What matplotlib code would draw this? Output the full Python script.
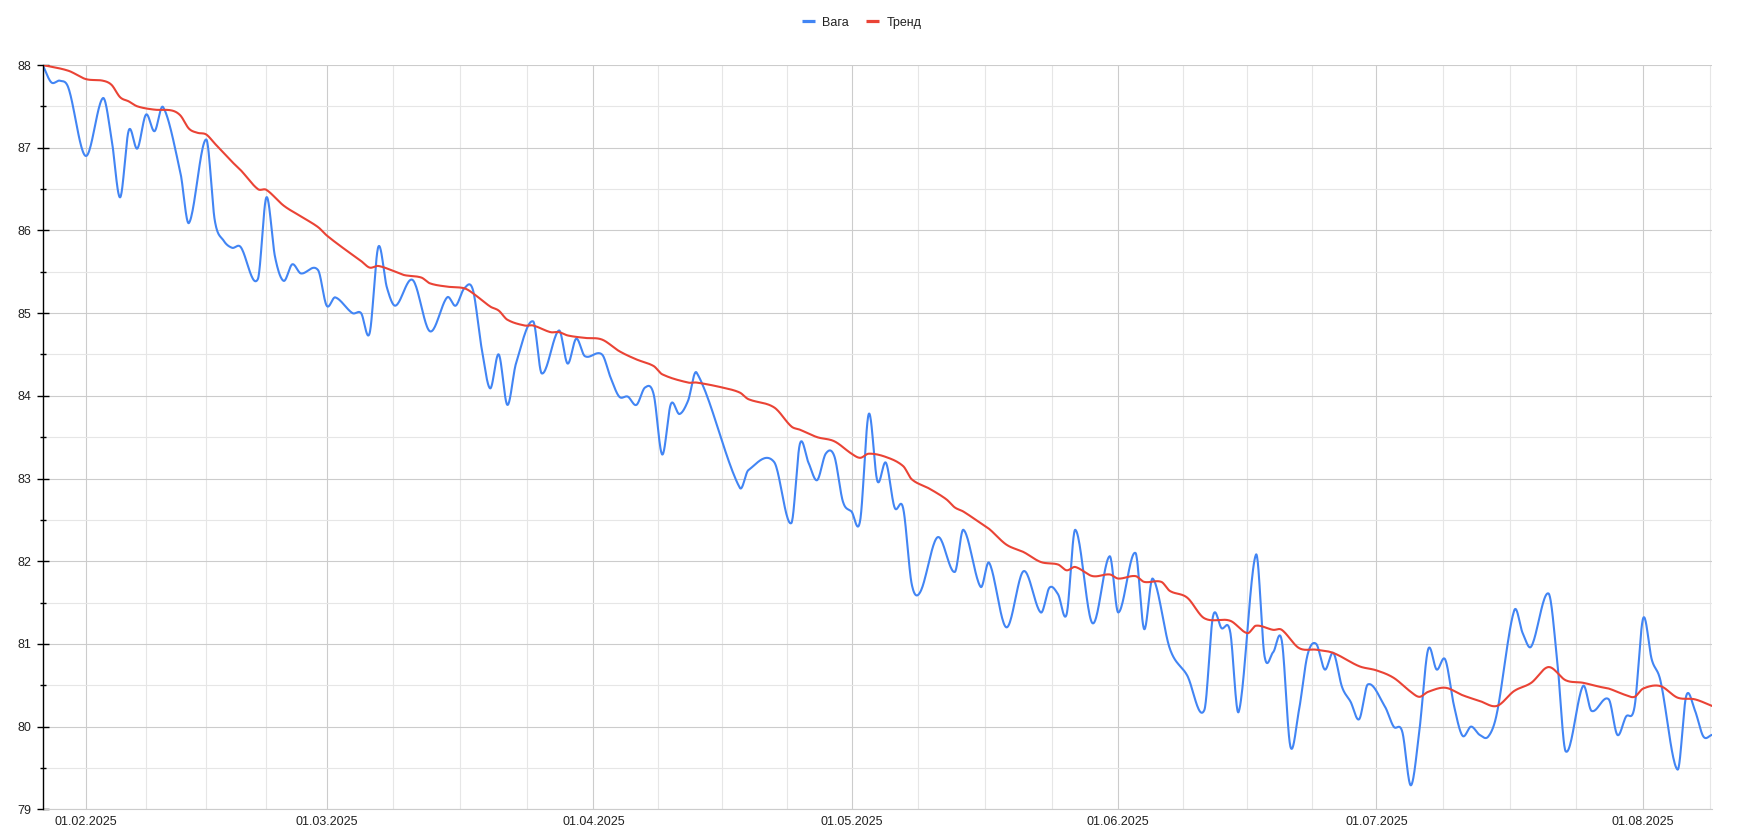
import datetime as dt
import numpy as np
import matplotlib
matplotlib.use("Agg")
import matplotlib.pyplot as plt
import matplotlib.dates as mdates
from matplotlib.lines import Line2D
from matplotlib.ticker import FixedLocator, MultipleLocator

plt.rcParams['font.family'] = ['Liberation Sans', 'DejaVu Sans']

YEAR = 2025

weight_dates = [
    "01-27", "01-28", "01-29", "01-30", "02-01", "02-03", "02-04", "02-05", "02-06", "02-07",
    "02-08", "02-09", "02-10", "02-12", "02-13", "02-15", "02-16", "02-17", "02-18", "02-19",
    "02-21", "02-22", "02-23", "02-24", "02-25", "02-26", "02-28", "03-01", "03-02", "03-04",
    "03-05", "03-06", "03-07", "03-08", "03-09", "03-11", "03-13", "03-15", "03-16", "03-17",
    "03-18", "03-19", "03-20", "03-21", "03-22", "03-23", "03-25", "03-26", "03-28", "03-29",
    "03-30", "03-31", "04-02", "04-03", "04-04", "04-05", "04-06", "04-07", "04-08", "04-09",
    "04-10", "04-11", "04-12", "04-13", "04-18", "04-19", "04-22", "04-24", "04-25", "04-26",
    "04-27", "04-28", "04-29", "04-30", "05-01", "05-02", "05-03", "05-04", "05-05", "05-06",
    "05-07", "05-08", "05-09", "05-11", "05-13", "05-14", "05-16", "05-17", "05-19", "05-21",
    "05-23", "05-24", "05-25", "05-26", "05-27", "05-29", "05-31", "06-01", "06-03", "06-04",
    "06-05", "06-07", "06-09", "06-11", "06-12", "06-13", "06-14", "06-15", "06-17", "06-18",
    "06-19", "06-20", "06-21", "06-22", "06-23", "06-24", "06-25", "06-26", "06-27", "06-28",
    "06-29", "06-30", "07-02", "07-03", "07-04", "07-05", "07-06", "07-07", "07-08", "07-09",
    "07-10", "07-11", "07-12", "07-13", "07-14", "07-15", "07-17", "07-18", "07-19", "07-21",
    "07-22", "07-23", "07-25", "07-26", "07-28", "07-29", "07-30", "07-31", "08-01", "08-02",
    "08-03", "08-05", "08-06", "08-07", "08-08", "08-09",
]
weight_values = [
    88.0, 87.79, 87.81, 87.72, 86.9, 87.6, 87.11, 86.4, 87.21, 86.99,
    87.4, 87.2, 87.49, 86.7, 86.09, 87.1, 86.12, 85.88, 85.79, 85.8,
    85.41, 86.4, 85.68, 85.39, 85.59, 85.48, 85.52, 85.09, 85.19, 85.0,
    85.0, 84.76, 85.8, 85.31, 85.09, 85.4, 84.78, 85.19, 85.09, 85.3,
    85.28, 84.58, 84.09, 84.5, 83.89, 84.39, 84.9, 84.27, 84.79, 84.39,
    84.69, 84.48, 84.5, 84.22, 83.99, 83.99, 83.89, 84.1, 84.02, 83.29,
    83.9, 83.78, 83.94, 84.28, 82.89, 83.1, 83.2, 82.46, 83.42, 83.19,
    82.98, 83.3, 83.27, 82.72, 82.6, 82.49, 83.78, 82.97, 83.19, 82.65,
    82.64, 81.72, 81.63, 82.29, 81.87, 82.38, 81.69, 81.98, 81.2, 81.88,
    81.38, 81.68, 81.6, 81.36, 82.38, 81.25, 82.06, 81.38, 82.1, 81.18,
    81.79, 80.94, 80.62, 80.2, 81.33, 81.19, 81.15, 80.18, 82.08, 80.85,
    80.9, 81.04, 79.76, 80.2, 80.87, 81.0, 80.69, 80.89, 80.48, 80.3,
    80.09, 80.51, 80.24, 80.0, 79.94, 79.29, 79.96, 80.93, 80.69, 80.81,
    80.26, 79.89, 80.0, 79.9, 79.88, 80.16, 81.4, 81.13, 80.97, 81.61,
    80.81, 79.7, 80.49, 80.19, 80.33, 79.9, 80.12, 80.24, 81.31, 80.81,
    80.56, 79.48, 80.37, 80.2, 79.88, 79.9,
]

trend_dates = [
    "01-27", "01-30", "02-01", "02-03", "02-04", "02-05", "02-06", "02-07", "02-09", "02-11",
    "02-12", "02-13", "02-14", "02-15", "02-16", "02-18", "02-19", "02-21", "02-22", "02-24",
    "02-26", "02-28", "03-01", "03-03", "03-05", "03-06", "03-07", "03-09", "03-10", "03-12",
    "03-13", "03-15", "03-17", "03-18", "03-20", "03-21", "03-22", "03-24", "03-25", "03-27",
    "03-28", "03-29", "03-31", "04-02", "04-04", "04-06", "04-08", "04-09", "04-12", "04-13",
    "04-16", "04-18", "04-19", "04-22", "04-24", "04-25", "04-27", "04-29", "05-01", "05-02",
    "05-03", "05-05", "05-07", "05-08", "05-10", "05-12", "05-13", "05-14", "05-16", "05-17",
    "05-19", "05-21", "05-23", "05-25", "05-26", "05-27", "05-29", "05-31", "06-01", "06-03",
    "06-04", "06-06", "06-07", "06-09", "06-11", "06-14", "06-16", "06-17", "06-19", "06-20",
    "06-22", "06-24", "06-26", "06-29", "07-01", "07-03", "07-05", "07-06", "07-07", "07-09",
    "07-11", "07-13", "07-15", "07-17", "07-19", "07-21", "07-23", "07-25", "07-27", "07-28",
    "07-30", "07-31", "08-01", "08-03", "08-05", "08-07", "08-09",
]
trend_values = [
    88.0, 87.93, 87.83, 87.81, 87.76, 87.61, 87.56, 87.5, 87.46, 87.45,
    87.39, 87.23, 87.18, 87.16, 87.05, 86.83, 86.73, 86.5, 86.49, 86.3,
    86.17, 86.04, 85.94, 85.78, 85.63, 85.55, 85.57, 85.5, 85.46, 85.43,
    85.36, 85.32, 85.3, 85.24, 85.08, 85.03, 84.92, 84.85, 84.85, 84.77,
    84.77, 84.73, 84.7, 84.68, 84.54, 84.44, 84.36, 84.26, 84.16, 84.16,
    84.1, 84.04, 83.96, 83.86, 83.63, 83.59, 83.5, 83.45, 83.3, 83.25,
    83.3, 83.26, 83.15, 82.99, 82.88, 82.75, 82.65, 82.6, 82.46, 82.39,
    82.2, 82.11, 81.99, 81.96, 81.89, 81.93, 81.82, 81.84, 81.79, 81.82,
    81.75, 81.75, 81.64, 81.56, 81.31, 81.28, 81.13, 81.22, 81.17, 81.17,
    80.95, 80.93, 80.89, 80.73, 80.68, 80.59, 80.42, 80.36, 80.42, 80.47,
    80.38, 80.31, 80.25, 80.43, 80.53, 80.72, 80.56, 80.53, 80.48, 80.46,
    80.38, 80.36, 80.46, 80.49, 80.35, 80.33, 80.25,
]

series_labels = ["Вага", "Тренд"]
series_colors = ["#4285F4", "#EA4335"]
y_min, y_max = 79, 88
x_start, x_end = "01-27", "08-09"


def to_num(md_list):
    return mdates.date2num([dt.datetime.strptime(f"{YEAR}-{s}", "%Y-%m-%d") for s in md_list])


def smooth_curve(x, y, n=24):
    """Cubic Hermite rendering through every data point (curved line style)."""
    x = np.asarray(x, float)
    y = np.asarray(y, float)
    m = np.empty_like(y)
    m[1:-1] = (y[2:] - y[:-2]) / (x[2:] - x[:-2])
    m[0] = (y[1] - y[0]) / (x[1] - x[0])
    m[-1] = (y[-1] - y[-2]) / (x[-1] - x[-2])
    xs, ys = [], []
    t = np.linspace(0, 1, n, endpoint=False)
    h00 = 2 * t**3 - 3 * t**2 + 1
    h10 = t**3 - 2 * t**2 + t
    h01 = -2 * t**3 + 3 * t**2
    h11 = t**3 - t**2
    for i in range(len(x) - 1):
        h = x[i + 1] - x[i]
        xs.append(x[i] + t * h)
        ys.append(h00 * y[i] + h10 * h * m[i] + h01 * y[i + 1] + h11 * h * m[i + 1])
    xs.append([x[-1]])
    ys.append([y[-1]])
    return np.concatenate(xs), np.concatenate(ys)


W, H = 1738, 832
fig = plt.figure(figsize=(W / 100, H / 100), dpi=100)
left, right, top, bottom = 42.7, 1712, 65, 809.3
ax = fig.add_axes([left / W, 1 - bottom / H, (right - left) / W, (bottom - top) / H])

xw = to_num(weight_dates)
xt = to_num(trend_dates)
bx, by = smooth_curve(xw, weight_values)
rx, ry = smooth_curve(xt, trend_values)
ax.plot(bx, by, color=series_colors[0], lw=1.5, solid_joinstyle='round', zorder=3)
ax.plot(rx, ry, color=series_colors[1], lw=1.5, solid_joinstyle='round', zorder=4)

x0, x1 = to_num([x_start, x_end])
ax.set_xlim(x0, x1)
ax.set_ylim(y_min, y_max)

# x axis: month starts (major) and quarter-month minor gridlines
months = [dt.datetime(YEAR, mth, 1) for mth in range(1, 11)]
mnum = mdates.date2num(months)
minor_pos = []
for a, b in zip(mnum[:-1], mnum[1:]):
    for k in (1, 2, 3):
        minor_pos.append(a + k * (b - a) / 4)
ax.xaxis.set_major_locator(mdates.MonthLocator())
ax.xaxis.set_major_formatter(mdates.DateFormatter('%d.%m.%Y'))
ax.xaxis.set_minor_locator(FixedLocator(minor_pos))
ax.tick_params(axis='x', which='both', length=0, pad=5, labelsize=9, labelcolor='#222222')

# y axis
ax.set_yticks(list(range(y_min, y_max + 1)))
ax.yaxis.set_minor_locator(MultipleLocator(0.5))
ax.tick_params(axis='y', which='major', direction='inout', length=8.5, width=1.0,
               color='#000000', pad=4, labelsize=9, labelcolor='#222222')
ax.tick_params(axis='y', which='minor', direction='inout', length=4.3, width=1.0, color='#000000')

ax.grid(which='major', color='#cccccc', lw=0.8, zorder=0)
ax.grid(which='minor', color='#e6e6e6', lw=0.8, zorder=0)
ax.set_axisbelow(True)

for s in ('top', 'right'):
    ax.spines[s].set_visible(False)
ax.spines['left'].set_color('#000000')
ax.spines['left'].set_linewidth(1.0)
ax.spines['left'].set_zorder(5)
ax.spines['bottom'].set_color('#cccccc')
ax.spines['bottom'].set_linewidth(0.8)

handles = [Line2D([], [], color=c, lw=2.3, solid_capstyle='butt') for c in series_colors]
leg = fig.legend(handles, series_labels, loc='center', bbox_to_anchor=(861.7 / W, 1 - 22.7 / H),
                 ncol=2, frameon=False, fontsize=9, handlelength=1.0, handletextpad=0.6,
                 columnspacing=1.4)
for txt in leg.get_texts():
    txt.set_color('#222222')

fig.savefig('out.png', dpi=100)
